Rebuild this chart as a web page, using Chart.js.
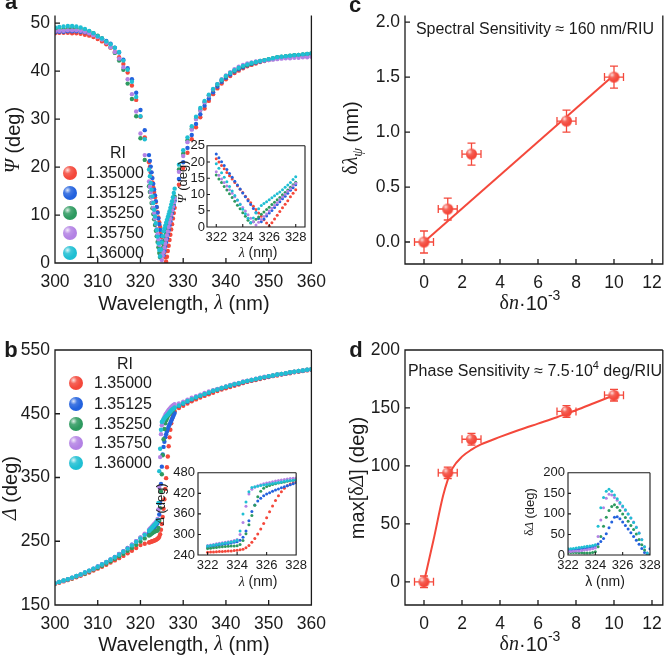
<!DOCTYPE html>
<html>
<head>
<meta charset="utf-8">
<script src="https://cdn.jsdelivr.net/npm/chart.js@4.4.1/dist/chart.umd.min.js"></script>
<style>
  html, body { margin: 0; padding: 0; background: #fff; }
  #fig { position: relative; width: 671px; height: 656px; overflow: hidden; background: #fff; }
  #fig canvas { position: absolute; }
</style>
</head>
<body>
<div id="fig">
  <canvas id="chartA" width="335" height="325" style="left:0;top:0"></canvas>
  <canvas id="chartB" width="335" height="331" style="left:0;top:325px"></canvas>
  <canvas id="chartC" width="336" height="325" style="left:335px;top:0"></canvas>
  <canvas id="chartD" width="336" height="331" style="left:335px;top:325px"></canvas>
  <canvas id="insetA" width="140" height="128" style="left:172px;top:136px"></canvas>
  <canvas id="insetB" width="160" height="130" style="left:150px;top:462px"></canvas>
  <canvas id="insetD" width="150" height="130" style="left:515px;top:462px"></canvas>
</div>
<script>
// Índices de refração e cores das séries
const riLabels = ['1.35000', '1.35125', '1.35250', '1.35750', '1.36000'];
const riColors = ['#f4483b', '#2362de', '#2e9a60', '#b382e4', '#1fbfd3'];

// Comprimentos de onda (nm): passo 1 nm fora da ressonância, 0.2 nm dentro
const lamLeft = [300, 301, 302, 303, 304, 305, 306, 307, 308, 309, 310, 311, 312, 313, 314, 315, 316, 317, 318, 319, 320, 321];
const lamDense = [322, 322.2, 322.4, 322.6, 322.8, 323, 323.2, 323.4, 323.6, 323.8, 324, 324.2, 324.4, 324.6, 324.8,
  325, 325.2, 325.4, 325.6, 325.8, 326, 326.2, 326.4, 326.6, 326.8, 327, 327.2, 327.4, 327.6, 327.8, 328];
const lamRight = [329, 330, 331, 332, 333, 334, 335, 336, 337, 338, 339, 340, 341, 342, 343, 344, 345, 346, 347, 348,
  349, 350, 351, 352, 353, 354, 355, 356, 357, 358, 359, 360];

// Psi (deg) - painel a
const psiRed = [47.9, 48.0, 48.0, 48.0, 47.9, 47.9, 47.8, 47.6, 47.4, 47.1, 46.7, 46.2, 45.6, 44.9, 44.0, 42.9, 41.5, 39.7, 37.0, 34.0, 30.5, 26.2,
  21.0, 20.0, 18.9, 17.9, 16.8, 15.8, 14.8, 13.7, 12.7, 11.6, 10.6, 9.5, 8.5, 7.5, 6.4, 5.4, 4.3, 3.3, 2.2, 1.2, 0.3, 1.3, 2.5, 3.6, 4.8, 5.9, 7.0, 8.1, 9.3, 10.4, 11.5,
  16.3, 19.8, 23.0, 25.8, 28.3, 30.4, 32.2, 33.8, 35.2, 36.4, 37.4, 38.3, 39.0, 39.6, 40.1, 40.6, 41.0, 41.3, 41.6, 41.9, 42.1, 42.3, 42.5, 42.7, 42.8, 42.9, 43.0, 43.1, 43.2, 43.3, 43.4, 43.5];
const psiBlue = [48.1, 48.2, 48.2, 48.3, 48.3, 48.3, 48.2, 48.1, 47.9, 47.6, 47.2, 46.8, 46.3, 45.7, 44.9, 43.9, 42.4, 40.6, 38.3, 35.5, 31.9, 27.7,
  22.5, 21.3, 20.1, 18.9, 17.7, 16.5, 15.3, 14.1, 12.9, 11.7, 10.5, 9.3, 8.1, 6.9, 5.7, 4.5, 2.6, 1.6, 2.5, 3.4, 4.3, 5.1, 6.0, 6.9, 7.8, 8.7, 9.5, 10.4, 11.3, 12.1, 13.0,
  17.5, 21.0, 24.0, 26.7, 29.0, 31.0, 32.8, 34.3, 35.6, 36.8, 37.8, 38.6, 39.3, 39.9, 40.4, 40.8, 41.2, 41.5, 41.8, 42.0, 42.2, 42.4, 42.6, 42.8, 42.9, 43.0, 43.1, 43.2, 43.3, 43.4, 43.5, 43.6];
const psiGreen = [48.7, 48.8, 48.8, 48.9, 48.9, 48.9, 48.8, 48.6, 48.3, 47.9, 47.4, 46.8, 46.0, 45.0, 43.8, 42.2, 40.3, 37.4, 34.2, 30.6, 26.0, 21.5,
  16.0, 14.8, 13.7, 12.5, 11.4, 10.2, 9.1, 7.9, 6.7, 5.6, 4.4, 3.3, 2.1, 1.2, 1.6, 2.4, 3.1, 3.9, 4.6, 5.4, 6.1, 6.9, 7.6, 8.4, 9.1, 9.9, 10.6, 11.4, 12.2, 13.0, 13.8,
  19.5, 22.8, 25.6, 28.0, 30.1, 31.9, 33.5, 34.9, 36.1, 37.2, 38.1, 38.9, 39.6, 40.1, 40.6, 41.0, 41.3, 41.6, 41.9, 42.1, 42.3, 42.5, 42.7, 42.9, 43.0, 43.1, 43.2, 43.3, 43.4, 43.5, 43.6, 43.7];
const psiPurple = [48.3, 48.4, 48.4, 48.5, 48.5, 48.5, 48.4, 48.2, 47.9, 47.5, 47.1, 46.6, 45.9, 45.0, 44.0, 42.6, 40.8, 38.3, 35.2, 31.6, 27.0, 22.5,
  17.0, 15.9, 14.8, 13.7, 12.6, 11.5, 10.4, 9.3, 8.2, 7.1, 6.0, 4.9, 3.8, 2.7, 1.6, 0.6, 1.5, 2.3, 3.2, 4.0, 4.9, 5.8, 6.6, 7.5, 8.4, 9.2, 10.1, 11.0, 11.8, 12.7, 13.5,
  19.0, 22.3, 25.2, 27.8, 30.0, 31.9, 33.5, 34.9, 36.2, 37.3, 38.3, 39.1, 39.8, 40.4, 40.9, 41.3, 41.6, 41.8, 42.0, 42.1, 42.2, 42.3, 42.4, 42.5, 42.6, 42.7, 42.7, 42.8, 42.8, 42.9, 42.9, 43.0];
const psiCyan = [49.1, 49.2, 49.3, 49.4, 49.4, 49.3, 49.1, 48.8, 48.4, 47.9, 47.3, 46.8, 46.2, 45.6, 44.9, 44.0, 42.2, 40.3, 37.8, 34.6, 30.6, 25.8,
  19.5, 18.1, 16.7, 15.3, 13.9, 12.5, 11.1, 9.7, 8.3, 6.9, 5.5, 4.1, 2.7, 1.4, 2.8, 4.3, 5.6, 6.6, 7.2, 7.8, 8.4, 9.0, 9.6, 10.2, 10.8, 11.5, 12.2, 12.9, 13.7, 14.6, 15.5,
  20.5, 23.5, 26.2, 28.5, 30.5, 32.3, 33.8, 35.1, 36.3, 37.3, 38.2, 39.0, 39.6, 40.2, 40.7, 41.1, 41.4, 41.7, 41.9, 42.1, 42.3, 42.5, 42.7, 42.9, 43.0, 43.1, 43.2, 43.3, 43.4, 43.5, 43.6, 43.7];

// Delta (deg) - painel b
const delRed = [183, 185, 187, 189, 191, 193.5, 196, 198.5, 201, 204, 207, 210, 213, 216.5, 220, 223.5, 227, 231, 235, 239.5, 244, 246,
  248, 248.5, 249, 249.5, 250, 250.5, 251, 251.5, 252, 253, 254, 255, 257, 261, 268, 277, 288, 301, 316, 332, 349, 366, 383, 399, 413, 425, 435, 442, 447, 451, 454,
  459, 462.5, 466, 469.5, 472.5, 475.5, 478, 480.5, 483, 485.5, 488, 490, 492, 494, 496, 498, 500, 501.5, 503, 504.5, 506, 507.5, 509, 510, 511.5, 512.5, 513.5, 515, 516, 517, 518, 519];
const delBlue = [184, 186, 188, 190.5, 193, 195.5, 198, 201, 204, 207, 210.5, 214, 217.5, 221.5, 225.5, 230, 234.5, 239.5, 244.5, 250, 255.5, 261,
  263, 264.5, 266, 267.5, 269, 270.5, 272, 273.5, 275, 277, 279, 283, 292, 310, 340, 367, 386, 398, 406, 413, 418, 422, 426, 430, 433, 436, 439, 442, 445, 448, 451,
  462, 465.5, 469, 472.5, 475.5, 478, 480.5, 483, 485.5, 488, 490, 492, 494, 496, 497.5, 499.5, 501, 502.5, 504, 505.5, 507, 508.5, 509.5, 511, 512, 513, 514.5, 515.5, 516.5, 517.5, 518.5, 519.5];
const delGreen = [184, 186, 188, 190, 192, 194.5, 197, 199.5, 202.5, 205.5, 208.5, 211.5, 215, 218.5, 222.5, 226.5, 230.5, 235, 239.5, 244.5, 249.5, 254.5,
  259, 260, 261, 262, 263, 264, 265, 265.5, 266, 266.5, 267, 271, 282, 302, 328, 355, 385, 410, 426, 435, 440, 443, 446, 448, 450, 452, 453.5, 455, 456.5, 458, 460,
  463, 466.5, 470, 473, 476, 478.5, 481, 483.5, 486, 488, 490.5, 492.5, 494.5, 496.5, 498, 500, 501.5, 503, 504.5, 506, 507.5, 509, 510, 511.5, 512.5, 513.5, 515, 516, 517, 518, 519, 520];
const delPurple = [184, 186, 188, 190.5, 192.5, 195, 197.5, 200.5, 203.5, 206.5, 210, 213.5, 217, 221, 225, 229.5, 234, 239, 244.5, 250, 256, 262,
  268, 269.5, 271, 272.5, 274, 275.5, 277, 278.5, 280, 282, 285, 300, 335, 382, 418, 432, 438, 442, 445, 448, 450, 452, 454, 456, 457.5, 459, 460.5, 462, 463, 464, 465,
  466, 469, 472, 475, 477.5, 480, 482.5, 485, 487, 489, 491, 493, 495, 497, 498.5, 500.5, 502, 503.5, 505, 506.5, 508, 509, 510, 511.5, 512.5, 513.5, 515, 516, 517, 518, 519, 520];
const delCyan = [184, 186, 188.5, 190.5, 193, 195.5, 198, 201, 204, 207, 210, 213.5, 217, 221, 225, 229, 233.5, 238.5, 243.5, 249, 254.5, 260,
  266, 267.5, 269, 270.5, 272, 273.5, 275, 276.5, 278, 280, 283, 310, 360, 395, 425, 437, 439, 441, 443, 444.5, 446, 447.5, 449, 450.5, 452, 453.5, 455, 456.5, 457.5, 458.5, 460,
  463, 466.5, 470, 473, 476, 478.5, 481, 483.5, 486, 488, 490.5, 492.5, 494.5, 496.5, 498, 500, 501.5, 503, 504.5, 506, 507.5, 509, 510, 511.5, 512.5, 513.5, 515, 516, 517, 518, 519, 520];

// delta-Delta (deg) relativo a 1.35000 - inset d (mesma grade lamDense)
const ddBlue = [12, 12.5, 13, 13.5, 14, 15, 16, 17, 18.5, 20, 23, 27, 33, 40, 52, 66, 80, 92, 93, 88, 80, 72, 63, 54, 45, 36, 26, 16, 6, 1, 15];
const ddGreen = [6, 6, 6, 6, 5.5, 5.5, 5, 5, 5, 6, 8, 20, 45, 70, 92, 108, 118, 122, 116, 108, 100, 91, 82, 72, 62, 51, 38, 25, 12, 2, 0];
const ddPurple = [8, 8.5, 9, 9.5, 10, 11, 12, 13, 14, 15, 17, 45, 85, 115, 138, 148, 146, 140, 133, 125, 117, 108, 100, 90, 80, 68, 54, 38, 20, 5, 0];
const ddCyan = [15, 15.5, 16, 17, 18, 19, 20, 21, 22, 23, 25, 70, 115, 140, 155, 160, 155, 146, 137, 128, 119, 110, 100, 90, 79, 67, 53, 37, 20, 5, 0];

// Sensibilidade (painéis c e d)
const dn = [0, 1.25, 2.5, 7.5, 10];
const dnErr = [0.5, 0.5, 0.5, 0.5, 0.5];
const shiftPsi = [0, 0.3, 0.8, 1.1, 1.5];
const shiftPsiErr = [0.1, 0.1, 0.1, 0.1, 0.1];
const fitC_x = [0, 10];
const fitC_y = [0, 1.52];
const maxDD = [0, 94, 123, 147, 161];
const maxDDErr = [5, 5, 5, 5, 5];
const fitD_x = [0, 0.5, 1, 1.25, 1.5, 2, 2.5, 3, 4, 5, 6, 7, 7.5, 8, 9, 10];
const fitD_y = [0, 36, 74, 88, 98, 108, 114, 118.5, 125, 131, 136.5, 142, 145, 148, 154.5, 161];

// Ticks
const ticksLam = [300, 310, 320, 330, 340, 350, 360];
const ticksPsi = [0, 10, 20, 30, 40, 50];
const ticksDel = [150, 250, 350, 450, 550];
const ticksDn = [0, 2, 4, 6, 8, 10, 12];
const ticksShift = [0, 0.5, 1, 1.5, 2];
const ticksMaxDD = [0, 50, 100, 150, 200];
const ticksLamIn = [322, 324, 326, 328];
const ticksPsiIn = [0, 5, 10, 15, 20, 25];
const ticksDelIn = [240, 300, 360, 420, 480];
const ticksDDIn = [0, 50, 100, 150, 200];

const FONT = '"Liberation Sans", Arial, Helvetica, sans-serif';
const SERIF = '"Liberation Serif", "DejaVu Serif", "Times New Roman", serif';
const INK = '#1b1b1b';
const RED = '#f4483b';
const TICK_FONT = 17.5;

const lamAll = lamLeft.concat(lamDense, lamRight);

function pts(xs, ys) {
  return xs.map((x, i) => ({ x: x, y: ys[i] }));
}

// esfera com brilho (marcadores)
function sphere(r, color) {
  const c = document.createElement('canvas');
  const s = Math.ceil(2 * r + 2);
  c.width = s; c.height = s;
  const g = c.getContext('2d');
  const m = s / 2;
  g.beginPath(); g.arc(m, m, r, 0, Math.PI * 2); g.fillStyle = color; g.fill();
  const hl = g.createRadialGradient(m - r * 0.35, m - r * 0.4, 0, m - r * 0.35, m - r * 0.4, r * 1.1);
  hl.addColorStop(0, 'rgba(255,255,255,0.85)');
  hl.addColorStop(0.45, 'rgba(255,255,255,0.15)');
  hl.addColorStop(1, 'rgba(255,255,255,0)');
  g.fillStyle = hl;
  g.beginPath(); g.arc(m, m, r, 0, Math.PI * 2); g.fill();
  return c;
}

// texto com itálico / sobrescrito / subscrito
function richText(ctx, parts, x, y, size, rot) {
  ctx.save();
  ctx.translate(x, y);
  if (rot) ctx.rotate(rot);
  const fontOf = p => {
    const s = (p.sup || p.sub) ? Math.round(size * 0.68) : size;
    return (p.i ? 'italic ' : '') + (p.b ? 'bold ' : '') + s + 'px ' + (p.serif ? SERIF : FONT);
  };
  let w = 0;
  parts.forEach(p => { ctx.font = fontOf(p); w += ctx.measureText(p.t).width; });
  let cx = -w / 2;
  ctx.textBaseline = 'middle';
  ctx.fillStyle = INK;
  parts.forEach(p => {
    ctx.font = fontOf(p);
    const dy = p.sup ? -size * 0.38 : (p.sub ? size * 0.3 : 0);
    ctx.fillText(p.t, cx, dy);
    cx += ctx.measureText(p.t).width;
  });
  ctx.restore();
}

function drawErrors(chart, e) {
  const ctx = chart.ctx, sx = chart.scales.x, sy = chart.scales.y;
  ctx.save();
  ctx.strokeStyle = e.color;
  ctx.lineWidth = 1.3;
  ctx.beginPath();
  e.x.forEach((xv, i) => {
    const yv = e.y[i];
    const px = sx.getPixelForValue(xv), py = sy.getPixelForValue(yv);
    const x0 = sx.getPixelForValue(xv - e.dx[i]), x1 = sx.getPixelForValue(xv + e.dx[i]);
    const y0 = sy.getPixelForValue(yv - e.dy[i]), y1 = sy.getPixelForValue(yv + e.dy[i]);
    ctx.moveTo(x0, py); ctx.lineTo(x1, py);
    ctx.moveTo(x0, py - e.cap); ctx.lineTo(x0, py + e.cap);
    ctx.moveTo(x1, py - e.cap); ctx.lineTo(x1, py + e.cap);
    ctx.moveTo(px, y0); ctx.lineTo(px, y1);
    ctx.moveTo(px - e.cap, y0); ctx.lineTo(px + e.cap, y0);
    ctx.moveTo(px - e.cap, y1); ctx.lineTo(px + e.cap, y1);
  });
  ctx.stroke();
  ctx.restore();
}

// moldura, ticks para dentro, títulos e legenda
const deco = {
  id: 'deco',
  beforeDatasetsDraw(chart, args, o) {
    const a = chart.chartArea, ctx = chart.ctx;
    if (o.fill) {
      ctx.save(); ctx.fillStyle = '#fff';
      ctx.fillRect(a.left, a.top, a.right - a.left, a.bottom - a.top);
      ctx.restore();
    }
    if (o.err) drawErrors(chart, o.err);
  },
  afterDatasetsDraw(chart, args, o) {
    const a = chart.chartArea, ctx = chart.ctx;
    const sx = chart.scales.x, sy = chart.scales.y;
    ctx.save();
    ctx.strokeStyle = INK;
    ctx.lineWidth = o.lw || 1.3;
    ctx.beginPath();
    ctx.moveTo(a.right, a.top);
    ctx.lineTo(a.right, a.bottom);
    ctx.lineTo(a.left, a.bottom);
    ctx.lineTo(a.left, a.top);
    if (!o.noTop) ctx.lineTo(a.right, a.top);
    const L = o.tick || 5;
    sx.ticks.forEach(t => {
      const p = sx.getPixelForValue(t.value);
      ctx.moveTo(p, a.bottom); ctx.lineTo(p, a.bottom - L);
    });
    sy.ticks.forEach(t => {
      const p = sy.getPixelForValue(t.value);
      ctx.moveTo(a.left, p); ctx.lineTo(a.left + L, p);
    });
    ctx.stroke();
    ctx.restore();
  },
  afterDraw(chart, args, o) {
    const ctx = chart.ctx;
    (o.texts || []).forEach(t => richText(ctx, t.parts, t.x, t.y, t.size, t.rot));
    if (o.legend) {
      const lg = o.legend;
      ctx.save();
      ctx.fillStyle = INK;
      ctx.font = '16px ' + FONT;
      ctx.textAlign = 'center'; ctx.textBaseline = 'middle';
      ctx.fillText(lg.title, lg.tx, lg.ty);
      ctx.textAlign = 'left';
      riLabels.forEach((lab, i) => {
        const img = sphere(7, riColors[i]);
        ctx.drawImage(img, lg.x - img.width / 2, lg.ys[i] - img.height / 2);
        ctx.fillText(lab, lg.xt, lg.ys[i] + 1);
      });
      ctx.restore();
    }
  }
};

function axis(min, max, ticks, size, fontSize, pad, isX, fmt) {
  return {
    type: 'linear',
    min: min,
    max: max,
    grid: { display: false, drawTicks: false },
    border: { display: false },
    afterBuildTicks: s => { s.ticks = ticks.map(v => ({ value: v })); },
    afterFit: s => { if (isX) s.height = size; else s.width = size; },
    ticks: {
      font: { family: FONT, size: fontSize },
      color: INK,
      padding: pad,
      autoSkip: false,
      maxRotation: 0,
      minRotation: 0,
      callback: fmt || (v => String(v))
    }
  };
}

function makeChart(id, datasets, o) {
  return new Chart(document.getElementById(id), {
    type: 'scatter',
    data: { datasets: datasets },
    options: {
      responsive: false,
      animation: false,
      events: [],
      layout: { padding: { top: o.padTop, right: o.padRight, left: 0, bottom: 0 } },
      plugins: { legend: { display: false }, tooltip: { enabled: false }, deco: o.deco },
      scales: { x: o.x, y: o.y }
    },
    plugins: [deco]
  });
}

function riSets(xs, arrays, r) {
  return arrays.map((ys, i) => ({
    data: pts(xs, ys),
    pointRadius: r,
    pointBackgroundColor: riColors[i],
    pointBorderWidth: 0,
    showLine: false,
    order: arrays.length - i
  }));
}

const psiAll = [psiRed, psiBlue, psiGreen, psiPurple, psiCyan];
const delAll = [delRed, delBlue, delGreen, delPurple, delCyan];
const denseOf = arr => arr.slice(lamLeft.length, lamLeft.length + lamDense.length);

// ---- a ----
makeChart('chartA', riSets(lamAll, psiAll, 2.2), {
  padTop: 0, padRight: 23,
  x: axis(300, 360, ticksLam, 62, TICK_FONT, 9, true),
  y: axis(0, 51.6, ticksPsi, 55, TICK_FONT, 5, false),
  deco: {
    noTop: true,
    texts: [
      { parts: [{ t: 'a', b: true }], x: 11, y: 3, size: 22 },
      { parts: [{ t: 'Ψ', i: true, serif: true }, { t: ' (deg)' }], x: 14, y: 140, size: 20, rot: -Math.PI / 2 },
      { parts: [{ t: 'Wavelength, ' }, { t: 'λ', i: true, serif: true }, { t: ' (nm)' }], x: 184, y: 304, size: 20 }
    ],
    legend: { title: 'RI', tx: 118, ty: 154, x: 70, xt: 86, ys: [173, 193, 213, 233, 253] }
  }
});

// ---- b ----
makeChart('chartB', riSets(lamAll, delAll, 2.2), {
  padTop: 25, padRight: 23,
  x: axis(300, 360, ticksLam, 51, TICK_FONT, 9, true),
  y: axis(150, 550, ticksDel, 55, TICK_FONT, 5, false),
  deco: {
    texts: [
      { parts: [{ t: 'b', b: true }], x: 11, y: 26, size: 22 },
      { parts: [{ t: 'Δ', i: true, serif: true }, { t: ' (deg)' }], x: 11, y: 163, size: 20, rot: -Math.PI / 2 },
      { parts: [{ t: 'Wavelength, ' }, { t: 'λ', i: true, serif: true }, { t: ' (nm)' }], x: 184, y: 320, size: 20 }
    ],
    legend: { title: 'RI', tx: 125, ty: 40, x: 76, xt: 94, ys: [58, 79, 99, 118, 138] }
  }
});

// ---- c ----
const ballRed = sphere(5.5, RED);
makeChart('chartC', [
  { data: pts(dn, shiftPsi), pointStyle: ballRed, pointRadius: 5.5, showLine: false, order: 0 },
  { type: 'line', data: pts(fitC_x, fitC_y), borderColor: RED, borderWidth: 2, pointRadius: 0, fill: false, order: 1 }
], {
  padTop: 0, padRight: 0,
  x: axis(-1, 12.57, ticksDn, 61, TICK_FONT, 9, true),
  y: axis(-0.2, 2.06, ticksShift, 70, TICK_FONT, 5, false, v => v.toFixed(1)),
  deco: {
    noTop: true,
    err: { x: dn, y: shiftPsi, dx: dnErr, dy: shiftPsiErr, cap: 4, color: RED },
    texts: [
      { parts: [{ t: 'c', b: true }], x: 20, y: 6, size: 22 },
      { parts: [{ t: 'Spectral Sensitivity ≈ 160 nm/RIU' }], x: 200, y: 30, size: 16 },
      { parts: [{ t: 'δ', serif: true }, { t: 'λ', i: true, serif: true }, { t: 'ψ', i: true, serif: true, sub: true }, { t: ' (nm)' }], x: 17, y: 138, size: 20, rot: -Math.PI / 2 },
      { parts: [{ t: 'δ', serif: true }, { t: 'n', i: true, serif: true }, { t: '·10' }, { t: '-3', sup: true }], x: 195, y: 304, size: 20 }
    ]
  }
});

// ---- d ----
makeChart('chartD', [
  { data: pts(dn, maxDD), pointStyle: ballRed, pointRadius: 5.5, showLine: false, order: 0 },
  { type: 'line', data: pts(fitD_x, fitD_y), borderColor: RED, borderWidth: 2, pointRadius: 0, fill: false, cubicInterpolationMode: 'monotone', order: 1 }
], {
  padTop: 25, padRight: 0,
  x: axis(-1, 12.57, ticksDn, 51, TICK_FONT, 9, true),
  y: axis(-20, 200, ticksMaxDD, 70, TICK_FONT, 5, false),
  deco: {
    err: { x: dn, y: maxDD, dx: dnErr, dy: maxDDErr, cap: 4, color: RED },
    texts: [
      { parts: [{ t: 'd', b: true }], x: 21, y: 26, size: 22 },
      { parts: [{ t: 'Phase Sensitivity ≈ 7.5·10' }, { t: '4', sup: true }, { t: ' deg/RIU' }], x: 200, y: 47, size: 16 },
      { parts: [{ t: 'max[' }, { t: 'δ', serif: true }, { t: 'Δ', i: true, serif: true }, { t: '] (deg)' }], x: 23, y: 153, size: 20, rot: -Math.PI / 2 },
      { parts: [{ t: 'δ', serif: true }, { t: 'n', i: true, serif: true }, { t: '·10' }, { t: '-3', sup: true }], x: 195, y: 320, size: 20 }
    ]
  }
});

// ---- insets ----
makeChart('insetA', riSets(lamDense, psiAll.map(denseOf), 1.5), {
  padTop: 7, padRight: 7,
  x: axis(321.3, 328.7, ticksLamIn, 37, 13, 3, true),
  y: axis(0, 25, ticksPsiIn, 35, 13, 2, false),
  deco: {
    fill: true, tick: 3, lw: 1.1,
    texts: [
      { parts: [{ t: 'Ψ', i: true, serif: true }, { t: ' (deg)' }], x: 11, y: 46, size: 13, rot: -Math.PI / 2 },
      { parts: [{ t: 'λ', i: true, serif: true }, { t: ' (nm)' }], x: 86, y: 117, size: 14 }
    ]
  }
});

makeChart('insetB', riSets(lamDense, delAll.map(denseOf), 1.5), {
  padTop: 10, padRight: 10,
  x: axis(321.35, 328, ticksLamIn, 37, 13, 3, true),
  y: axis(240, 480, ticksDelIn, 48, 13, 3, false),
  deco: {
    fill: true, tick: 3, lw: 1.1,
    texts: [
      { parts: [{ t: 'Δ', i: true, serif: true }, { t: ' (deg)' }], x: 11, y: 42, size: 13, rot: -Math.PI / 2 },
      { parts: [{ t: 'λ', i: true, serif: true }, { t: ' (nm)' }], x: 108, y: 120, size: 14 }
    ]
  }
});

const ddAll = [ddBlue, ddGreen, ddPurple, ddCyan];
makeChart('insetD', ddAll.map((ys, i) => ({
  data: pts(lamDense, ys),
  pointRadius: 1.5,
  pointBackgroundColor: riColors[i + 1],
  pointBorderWidth: 0,
  showLine: false,
  order: ddAll.length - i
})), {
  padTop: 10, padRight: 15,
  x: axis(322, 328, ticksLamIn, 37, 13, 3, true),
  y: axis(0, 200, ticksDDIn, 53, 13, 3, false),
  deco: {
    fill: true, tick: 3, lw: 1.1,
    texts: [
      { parts: [{ t: 'δ', serif: true }, { t: 'Δ', i: true, serif: true }, { t: ' (deg)' }], x: 15, y: 50, size: 13, rot: -Math.PI / 2 },
      { parts: [{ t: 'λ (nm)' }], x: 90, y: 120, size: 14 }
    ]
  }
});
</script>
</body>
</html>
